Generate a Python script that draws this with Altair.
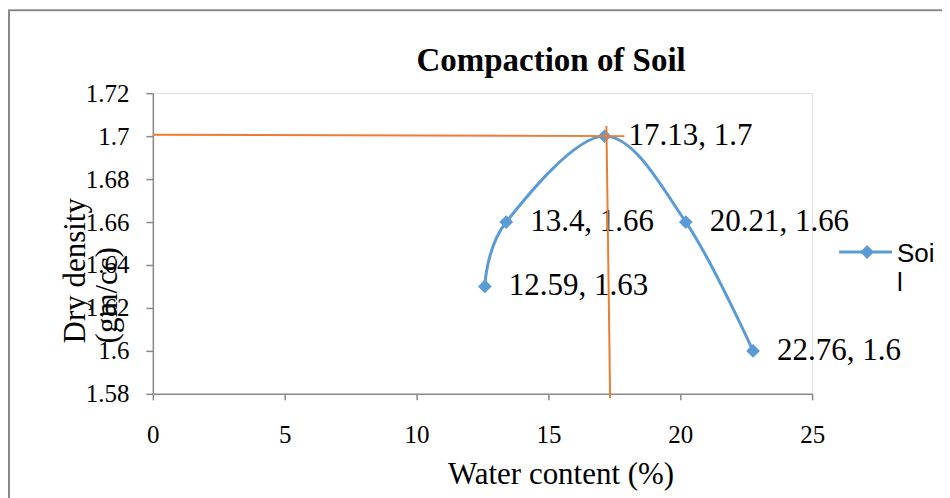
import altair as alt
import pandas as pd

# ---- data ----
water = [12.59, 13.4, 17.13, 20.21, 22.76]
density = [1.63, 1.66, 1.70, 1.66, 1.60]
labels = [f"{w:g}, {d:g}" for w, d in zip(water, density)]
series_name = "Soil"

# orange guide lines (max dry density / optimum water content)
guide_x = [0.0, 17.2]
guide_y = [1.7006, 1.7047]
guide_x2 = [17.88, 17.34]
guide_y2 = [1.700, 1.578]

x_ticks = [0, 5, 10, 15, 20, 25]
y_ticks = [1.58, 1.60, 1.62, 1.64, 1.66, 1.68, 1.70, 1.72]

BLUE = "#5B9BD5"
ORANGE = "#ED7D31"
GRAY = "#898989"
SERIF = "Liberation Serif"

df = pd.DataFrame({"water": water, "density": density, "label": labels,
                   "series": series_name})
gdf = pd.DataFrame({"x": guide_x, "y": guide_y, "x2": guide_x2, "y2": guide_y2})

xscale = alt.Scale(domain=[0, 25], nice=False, zero=False)
yscale = alt.Scale(domain=[1.58, 1.72], nice=False, zero=False)

x_axis = alt.Axis(
    values=x_ticks, title="Water content (%)", grid=False,
    domainColor=GRAY, domainWidth=1.5, tickColor=GRAY, tickWidth=1.5, tickSize=6,
    labelFont=SERIF, labelFontSize=25, labelColor="black", labelPadding=23,
    labelFlush=False, labelOverlap=False,
    titleFont=SERIF, titleFontSize=31, titleFontWeight="normal", titleColor="black",
    titleAlign="left", titleBaseline="alphabetic", titleX=295, titleY=90,
)
y_axis = alt.Axis(
    values=y_ticks, format=".2~f", title=["Dry density", "(gm/cc)"], grid=False,
    domainColor=GRAY, domainWidth=1.5, tickColor=GRAY, tickWidth=1.5, tickSize=7,
    labelFont=SERIF, labelFontSize=25, labelColor="black", labelPadding=17,
    labelFlush=False, labelOverlap=False,
    titleFont=SERIF, titleFontSize=31, titleFontWeight="normal", titleColor="black",
    titleAngle=270, titleAlign="left", titleBaseline="alphabetic",
    titleX=-68, titleY=250, titleLineHeight=32,
)

base = alt.Chart(df)

line = base.mark_line(interpolate="cardinal", color=BLUE, strokeWidth=3).encode(
    x=alt.X("water:Q", scale=xscale, axis=x_axis),
    y=alt.Y("density:Q", scale=yscale, axis=y_axis),
)
points = base.mark_point(shape="diamond", filled=True, size=190, color=BLUE,
                         opacity=1).encode(x="water:Q", y="density:Q")
texts = base.mark_text(align="left", baseline="middle", dx=24, font=SERIF,
                       fontSize=31, color="black").encode(
    x="water:Q", y="density:Q", text="label:N")

guides = alt.Chart(gdf).mark_rule(color=ORANGE, strokeWidth=2).encode(
    x="x:Q", y="y:Q", x2="x2:Q", y2="y2:Q")

# legend (drawn manually so the label wraps like the original)
leg = alt.Chart(pd.DataFrame({"series": [series_name]}))
leg_line = leg.mark_rule(color=BLUE, strokeWidth=3).encode(
    x=alt.value(687), x2=alt.value(740), y=alt.value(159))
leg_pt = leg.mark_point(shape="diamond", filled=True, size=190, color=BLUE,
                        opacity=1).encode(x=alt.value(715), y=alt.value(159))
leg_txt = leg.transform_calculate(
    lines="slice(datum.series, 0, 3) + '\\n' + slice(datum.series, 3)"
).mark_text(align="left", baseline="alphabetic", font="Liberation Sans",
            fontSize=26, lineHeight=29, lineBreak="\n", color="black").encode(
    x=alt.value(745), y=alt.value(169), text="lines:N")

border = alt.Chart(pd.DataFrame({"a": [0]})).mark_rect(
    filled=False, fillOpacity=0, stroke="#8a8a8a", strokeWidth=2).encode(
    x=alt.value(-144), y=alt.value(-83), x2=alt.value(900), y2=alt.value(500))

chart = alt.layer(border, line, points, texts, guides, leg_line, leg_pt, leg_txt).properties(
    width=660, height=301,
    padding={"left": 145, "top": 85, "right": 130, "bottom": 104},
    autosize=alt.AutoSizeParams(type="none"),
    title=alt.TitleParams("Compaction of Soil", anchor="start", frame="group",
                          dx=264, offset=-95, font=SERIF, fontSize=33,
                          fontWeight="bold", baseline="alphabetic", color="black"),
).configure_view(strokeWidth=0).configure(background="white")

chart.save("out.html", embed_options={"renderer": "svg", "actions": False})
